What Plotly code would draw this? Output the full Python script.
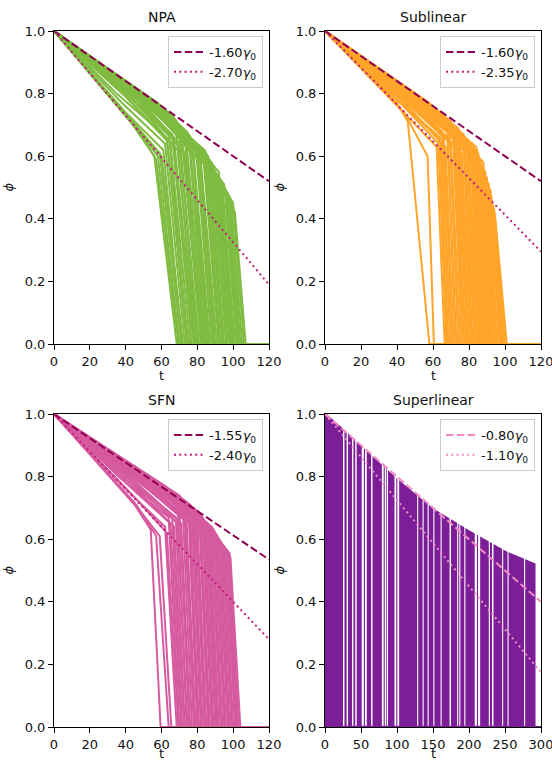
import plotly.graph_objects as go

GAMMA0 = 0.0025

# ---------------- data ----------------
# each trajectory: (0,1) -> (knee_t, knee_phi) -> (drop_t, drop_phi) -> (zero_t, 0) -> (t_end, 0)
npa_knee_t = [44, 46, 45, 42, 44, 40,
              38, 35, 40, 36, 42, 38, 45, 40, 34, 44, 40, 48, 36, 46,
              42, 50, 45, 38, 52, 48, 55, 44, 50, 56, 46, 58, 52, 60, 48, 62, 55, 58,
              60, 64, 56, 66, 60, 68, 62, 70, 64, 72, 66, 75, 70, 78, 80, 74, 82, 84]
npa_knee_phi = [0.70, 0.69, 0.70, 0.72, 0.71, 0.74,
                0.77, 0.80, 0.79, 0.82, 0.78, 0.81, 0.79, 0.80, 0.84, 0.78, 0.82, 0.77, 0.83, 0.79,
                0.81, 0.77, 0.80, 0.83, 0.77, 0.79, 0.76, 0.81, 0.79, 0.76, 0.80, 0.75, 0.79, 0.755, 0.80, 0.74, 0.78, 0.77,
                0.76, 0.73, 0.77, 0.72, 0.75, 0.71, 0.75, 0.70, 0.74, 0.69, 0.73, 0.67, 0.70, 0.65, 0.64, 0.68, 0.63, 0.62]
npa_drop_t = [56, 57, 58, 59, 60, 61,
              62, 63, 63, 64, 65, 66, 66, 67, 68, 69, 70, 70, 71, 72,
              73, 73, 74, 75, 76, 77, 78, 79, 80, 80, 81, 82, 83, 84, 85, 86, 86, 87,
              88, 88, 89, 90, 90, 91, 92, 92, 93, 94, 95, 96, 97, 97, 98, 99, 100, 101]
npa_drop_phi = [0.60, 0.59, 0.60, 0.61, 0.60, 0.62,
                0.64, 0.66, 0.65, 0.68, 0.64, 0.67, 0.66, 0.65, 0.69, 0.62, 0.67, 0.63, 0.68, 0.63,
                0.66, 0.61, 0.64, 0.67, 0.62, 0.63, 0.60, 0.64, 0.62, 0.59, 0.61, 0.58, 0.62, 0.60, 0.58, 0.57, 0.60, 0.56,
                0.58, 0.54, 0.57, 0.53, 0.55, 0.52, 0.55, 0.50, 0.52, 0.50, 0.51, 0.49, 0.48, 0.47, 0.47, 0.45, 0.45, 0.42]
npa_zero_t = [68.5, 69.5, 70, 71, 72, 71.5,
              73, 74, 75, 74.5, 76, 77, 78, 78.5, 79, 80, 80.5, 81, 82, 82.5,
              83, 84, 84.5, 85, 86, 86.5, 87, 88, 89, 89.5, 90, 91, 92, 92.5, 93, 94, 94.5, 95,
              96, 96.5, 97, 98, 98.5, 99, 99.5, 100, 100.5, 101, 102, 102.5, 103, 103.5, 104, 105, 106, 107]

sub_knee_t = [40, 44,
              40, 36, 42, 38, 44, 35, 40, 46, 37, 42, 34, 45, 38, 48, 40, 44,
              50, 36, 46, 52, 40, 48, 55, 44, 50, 57, 46, 53, 60, 48, 56, 62, 52, 58, 64, 55,
              60, 66, 58, 68, 62, 70, 64, 72, 66, 74, 68, 76, 70, 78, 80, 74, 82, 84]
sub_knee_phi = [0.77, 0.74,
                0.76, 0.80, 0.77, 0.79, 0.77, 0.82, 0.80, 0.76, 0.82, 0.79, 0.84, 0.78, 0.82, 0.77, 0.81, 0.80,
                0.77, 0.83, 0.79, 0.76, 0.82, 0.79, 0.76, 0.81, 0.78, 0.75, 0.80, 0.78, 0.75, 0.80, 0.77, 0.74, 0.79, 0.76, 0.73, 0.78,
                0.76, 0.72, 0.77, 0.71, 0.75, 0.70, 0.74, 0.69, 0.73, 0.68, 0.72, 0.67, 0.71, 0.66, 0.65, 0.69, 0.64, 0.63]
sub_drop_t = [46, 57,
              62, 63, 63, 64, 65, 65, 66, 67, 68, 68, 69, 70, 71, 72, 72, 73,
              74, 74, 75, 76, 77, 77, 78, 79, 79, 80, 81, 81, 82, 83, 83, 84, 85, 85, 86, 86,
              87, 87, 88, 88, 89, 89, 90, 90, 91, 91, 92, 92, 92.5, 93, 93, 93.5, 94, 94.5]
sub_drop_phi = [0.71, 0.60,
                0.63, 0.66, 0.64, 0.66, 0.64, 0.68, 0.66, 0.63, 0.69, 0.65, 0.70, 0.64, 0.68, 0.63, 0.66, 0.65,
                0.62, 0.68, 0.64, 0.61, 0.67, 0.63, 0.61, 0.65, 0.62, 0.60, 0.64, 0.61, 0.60, 0.62, 0.60, 0.59, 0.61, 0.58, 0.57, 0.59,
                0.57, 0.55, 0.58, 0.54, 0.55, 0.52, 0.53, 0.50, 0.51, 0.48, 0.49, 0.46, 0.47, 0.44, 0.43, 0.42, 0.43, 0.41]
sub_zero_t = [58, 60.5,
              66.5, 67.5, 68, 68.5, 69.5, 70, 71, 71.5, 72.5, 73, 74, 75, 76, 76.5, 77.5, 78,
              79, 79.5, 80, 81, 81.5, 82, 83, 83.5, 84, 85, 85.5, 86, 86.5, 87, 88, 88.5, 89, 89.5, 90, 90.5,
              91, 91.5, 92, 92.5, 93, 93.5, 94, 95, 95.5, 96, 97, 97.5, 98, 98.5, 99, 99.5, 100, 101]

sfn_knee_t = [45, 46, 44,
              40, 44, 36, 42, 38, 46, 40, 35, 44, 38, 48, 42, 36, 46, 50, 40,
              44, 52, 48, 38, 55, 46, 52, 58, 42, 50, 60, 55, 62, 48, 58, 65, 54, 62, 68,
              58, 66, 72, 62, 70, 75, 66, 78, 70, 80, 74, 82, 76, 84, 80, 86, 82, 88]
sfn_knee_phi = [0.71, 0.71, 0.72,
                0.76, 0.74, 0.80, 0.77, 0.80, 0.76, 0.80, 0.84, 0.78, 0.82, 0.77, 0.81, 0.85, 0.79, 0.78, 0.83,
                0.81, 0.78, 0.80, 0.84, 0.77, 0.81, 0.79, 0.76, 0.83, 0.80, 0.76, 0.78, 0.75, 0.81, 0.77, 0.74, 0.79, 0.76, 0.73,
                0.78, 0.74, 0.72, 0.77, 0.73, 0.71, 0.75, 0.69, 0.74, 0.69, 0.72, 0.67, 0.71, 0.66, 0.69, 0.65, 0.67, 0.64]
sfn_drop_t = [54, 57, 59,
              62, 63, 64, 65, 66, 67, 68, 69, 69, 70, 71, 72, 73, 73, 74, 75,
              76, 76, 77, 78, 78, 79, 80, 80, 81, 82, 82, 83, 84, 84, 85, 86, 86, 87, 87,
              88, 88, 89, 90, 90, 91, 92, 92, 93, 94, 94, 95, 96, 96, 97, 97.5, 98, 98.5]
sfn_drop_phi = [0.63, 0.61, 0.61,
                0.64, 0.62, 0.67, 0.65, 0.67, 0.64, 0.67, 0.71, 0.65, 0.69, 0.65, 0.68, 0.72, 0.66, 0.66, 0.70,
                0.68, 0.65, 0.67, 0.70, 0.64, 0.67, 0.66, 0.64, 0.68, 0.66, 0.63, 0.65, 0.63, 0.66, 0.64, 0.62, 0.64, 0.62, 0.61,
                0.63, 0.60, 0.60, 0.61, 0.59, 0.59, 0.59, 0.58, 0.58, 0.58, 0.57, 0.57, 0.56, 0.56, 0.56, 0.55, 0.555, 0.54]
sfn_zero_t = [59.5, 64, 65.5,
              68.5, 69.5, 70, 71, 71.5, 72.5, 73, 74, 74.5, 75.5, 76, 77, 78, 78.5, 79, 80,
              80.5, 81, 82, 82.5, 83, 84, 84.5, 85, 86, 86.5, 87, 88, 88.5, 89, 90, 90.5, 91, 91.5, 92,
              93, 93.5, 94, 95, 95.5, 96, 97, 97.5, 98, 99, 99.5, 100, 101, 101.5, 102, 102.5, 103, 104]

# Superlinear: envelope of surviving trajectories, last collapse time, and collapse-free time gaps
sup_env_t = [0, 25, 50, 100, 150, 200, 250, 280, 291]
sup_env_phi = [1.0, 0.95, 0.895, 0.79, 0.695, 0.625, 0.56, 0.53, 0.52]
sup_last_t = 291
sup_gap_start = [25, 30, 37.5, 42, 51, 55.5, 64, 79, 83, 86, 96.5, 100.5, 128, 135.5, 142.5, 150.5, 160.5,
                 173, 183.5, 186.5, 193.5, 208, 212.5, 227.5, 232, 246, 253.5, 276.5]
sup_gap_end = [27, 32, 39.5, 44, 54, 58, 66, 81.5, 85, 87.5, 99, 103, 129.5, 137, 144, 152, 162,
               175, 185, 188, 195, 211, 215.5, 229, 234, 247.5, 255, 278]

panel_titles = ["NPA", "Sublinear", "SFN", "Superlinear"]
t_end = [120, 120, 120, 300]
x_ticks = [[0, 20, 40, 60, 80, 100, 120]] * 3 + [[0, 50, 100, 150, 200, 250, 300]]
y_ticks = [0.0, 0.2, 0.4, 0.6, 0.8, 1.0]
ref_dashed = [1.60, 1.60, 1.55, 0.80]   # slopes in units of gamma0
ref_dotted = [2.70, 2.35, 2.40, 1.10]

colors = ["#7fbc41", "#ffa52a", "#d65a9f", "#7b1e97"]
ref_dash_colors = ["#8e0152", "#8e0152", "#8e0152", "#f48ac6"]
ref_dot_colors = ["#c51b7d", "#c51b7d", "#c51b7d", "#f48ac6"]

# ---------------- figure ----------------
W, H = 552, 760
ML, MR, MT, MB = 54, 11, 31, 33
PW, PH = W - ML - MR, H - MT - MB
def fx(px):
    return (px - ML) / PW
def fy(py):
    return 1 - (py - MT) / PH

x_domains = [[fx(54), fx(269)], [fx(325), fx(541)], [fx(54), fx(269)], [fx(325), fx(541)]]
y_domains = [[fy(344), fy(31)], [fy(344), fy(31)], [fy(727), fy(414)], [fy(727), fy(414)]]

fig = go.Figure()
axis_ids = ["", "2", "3", "4"]

def add_trajs(i, kt, kp, dt, dp, zt):
    xs, ys = [], []
    for a, b, c, d, e in zip(kt, kp, dt, dp, zt):
        xs += [0, a, c, e, t_end[i], None]
        ys += [1.0, b, d, 0.0, 0.0, None]
    fig.add_trace(go.Scatter(x=xs, y=ys, mode="lines", line=dict(color=colors[i], width=2),
                             showlegend=False, hoverinfo="skip",
                             xaxis="x" + axis_ids[i], yaxis="y" + axis_ids[i]))

add_trajs(0, npa_knee_t, npa_knee_phi, npa_drop_t, npa_drop_phi, npa_zero_t)
add_trajs(1, sub_knee_t, sub_knee_phi, sub_drop_t, sub_drop_phi, sub_zero_t)
add_trajs(2, sfn_knee_t, sfn_knee_phi, sfn_drop_t, sfn_drop_phi, sfn_zero_t)

# superlinear ensemble
fig.add_trace(go.Scatter(x=sup_env_t + [sup_last_t], y=sup_env_phi + [0.0], mode="lines",
                         fill="tozeroy", fillcolor=colors[3], line=dict(color=colors[3], width=2),
                         showlegend=False, hoverinfo="skip", xaxis="x4", yaxis="y4"))
gx, gy = [], []
for a, b in zip(sup_gap_start, sup_gap_end):
    gx += [a, a, b, b, None]
    gy += [0.004, 1.0, 1.0, 0.004, None]
fig.add_trace(go.Scatter(x=gx, y=gy, mode="lines", fill="toself", fillcolor="white",
                         line=dict(width=0, color="white"), showlegend=False, hoverinfo="skip",
                         xaxis="x4", yaxis="y4"))
fig.add_trace(go.Scatter(x=[0, t_end[3]], y=[0, 0], mode="lines", line=dict(color=colors[3], width=2),
                         showlegend=False, hoverinfo="skip", xaxis="x4", yaxis="y4"))

# reference lines
legend_ids = ["legend", "legend2", "legend3", "legend4"]
for i in range(4):
    te = t_end[i]
    for k, col, dash in ((ref_dashed[i], ref_dash_colors[i], "7.5px,3.3px"),
                         (ref_dotted[i], ref_dot_colors[i], "2px,3.3px")):
        fig.add_trace(go.Scatter(x=[0, te], y=[1.0, 1.0 - k * GAMMA0 * te], mode="lines",
                                 line=dict(color=col, width=2, dash=dash),
                                 name="-%.2f<i>γ</i><sub>0</sub>" % k, legend=legend_ids[i],
                                 xaxis="x" + axis_ids[i], yaxis="y" + axis_ids[i]))

font = dict(family="DejaVu Sans", size=13, color="#111")
layout = dict(width=W, height=H, margin=dict(l=ML, r=MR, t=MT, b=MB, autoexpand=False),
              paper_bgcolor="white", plot_bgcolor="white", font=font)
for i in range(4):
    ax = dict(domain=x_domains[i], range=[0, t_end[i]], tickvals=x_ticks[i], automargin=False,
              ticklabeloverflow="allow",
              showline=True, mirror=True, linecolor="black", linewidth=1.1,
              ticks="outside", ticklen=5, tickwidth=1.1, tickcolor="black",
              showgrid=False, zeroline=False, anchor="y" + axis_ids[i])
    ay = dict(domain=y_domains[i], range=[0, 1], tickvals=y_ticks, tickformat=".1f", automargin=False,
              ticklabeloverflow="allow",
              showline=True, mirror=True, linecolor="black", linewidth=1.1,
              ticks="outside", ticklen=5, tickwidth=1.1, tickcolor="black",
              showgrid=False, zeroline=False, anchor="x" + axis_ids[i])
    layout["xaxis" + axis_ids[i]] = ax
    layout["yaxis" + axis_ids[i]] = ay
    layout[legend_ids[i]] = dict(x=x_domains[i][1] - 6 / PW, y=y_domains[i][1] - 5 / PH,
                                 xanchor="right", yanchor="top", bgcolor="rgba(255,255,255,0.8)",
                                 bordercolor="#cccccc", borderwidth=1, font=dict(size=13),
                                 tracegroupgap=0)

annotations = []
for i in range(4):
    xc = (x_domains[i][0] + x_domains[i][1]) / 2
    yc = (y_domains[i][0] + y_domains[i][1]) / 2
    annotations.append(dict(text=panel_titles[i], x=xc, y=y_domains[i][1], xref="paper", yref="paper",
                            xanchor="center", yanchor="bottom", yshift=4, showarrow=False,
                            font=dict(size=14)))
    annotations.append(dict(text="t", x=xc, y=y_domains[i][0], xref="paper", yref="paper",
                            xanchor="center", yanchor="middle", yshift=(-31 if i < 2 else -26),
                            showarrow=False, font=dict(size=13)))
    annotations.append(dict(text="<i>ϕ</i>", x=x_domains[i][0], y=yc, xref="paper", yref="paper",
                            xanchor="center", yanchor="middle", xshift=-46, textangle=-90,
                            showarrow=False, font=dict(size=13)))
layout["annotations"] = annotations
fig.update_layout(**layout)
fig.write_html("out.html")
